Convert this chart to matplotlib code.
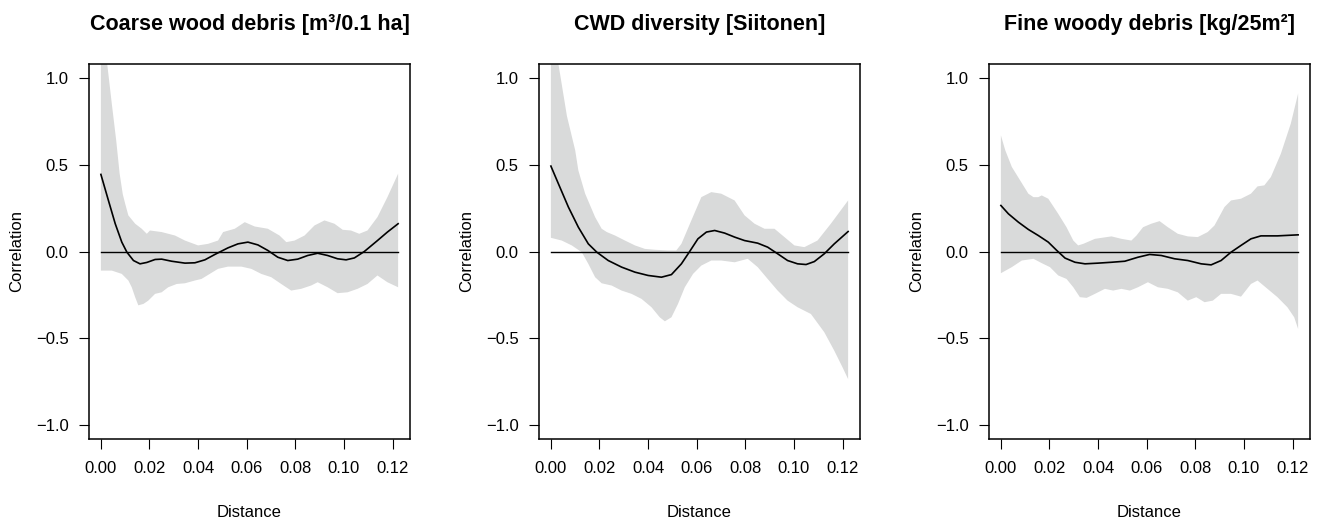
import numpy as np
import matplotlib
matplotlib.use("Agg")
import matplotlib.pyplot as plt
from matplotlib.ticker import FuncFormatter, FixedLocator

plt.rcParams['font.family'] = ['Liberation Sans', 'DejaVu Sans']

titles = ["Coarse wood debris [m³/0.1 ha]", "CWD diversity [Siitonen]", "Fine woody debris [kg/25m²]"]
x_ticks = [0.00, 0.02, 0.04, 0.06, 0.08, 0.10, 0.12]
y_ticks = [-1.0, -0.5, 0.0, 0.5, 1.0]

# Panel 1: Coarse wood debris
cwd_line_x = [0.0, 0.0031, 0.0059, 0.0086, 0.0107, 0.0134, 0.0161, 0.0189, 0.0223, 0.025, 0.0291, 0.0346,
              0.0387, 0.0428, 0.0469, 0.0523, 0.0564, 0.0605, 0.0646, 0.0687, 0.0728, 0.0769, 0.081, 0.0851,
              0.0892, 0.0933, 0.0974, 0.1009, 0.1043, 0.1084, 0.1138, 0.1179, 0.1223]
cwd_line_y = [0.444, 0.294, 0.16, 0.054, -0.004, -0.052, -0.071, -0.063, -0.046, -0.044, -0.056, -0.067,
              -0.065, -0.048, -0.017, 0.021, 0.044, 0.054, 0.038, 0.006, -0.033, -0.052, -0.044, -0.023,
              -0.01, -0.023, -0.042, -0.048, -0.037, 0.0, 0.063, 0.112, 0.16]
cwd_up_x = [0.0, 0.0026, 0.0045, 0.0063, 0.0077, 0.009, 0.01, 0.0113, 0.0141, 0.0168, 0.0189, 0.0202, 0.025,
            0.0305, 0.0346, 0.04, 0.0441, 0.0482, 0.0503, 0.0551, 0.0592, 0.0633, 0.0687, 0.0735, 0.0763,
            0.0797, 0.0838, 0.0879, 0.092, 0.0961, 0.0995, 0.1029, 0.1063, 0.1097, 0.1138, 0.1179, 0.1223]
cwd_up_y = [1.4, 1.08, 0.85, 0.64, 0.45, 0.33, 0.275, 0.208, 0.16, 0.131, 0.102, 0.121, 0.112,
            0.092, 0.063, 0.035, 0.044, 0.063, 0.112, 0.131, 0.169, 0.144, 0.131, 0.092, 0.054,
            0.063, 0.092, 0.15, 0.179, 0.16, 0.125, 0.121, 0.102, 0.121, 0.198, 0.313, 0.448]
cwd_lo_x = [0.0, 0.0045, 0.0086, 0.0113, 0.0127, 0.0141, 0.0154, 0.0175, 0.0195, 0.0223, 0.025, 0.0277,
            0.0312, 0.0346, 0.0387, 0.0414, 0.0448, 0.0482, 0.0523, 0.0578, 0.0619, 0.066, 0.0701, 0.0742,
            0.0783, 0.0824, 0.0865, 0.0892, 0.0933, 0.0974, 0.1015, 0.1056, 0.1097, 0.1138, 0.1179, 0.1223]
cwd_lo_y = [-0.11, -0.11, -0.129, -0.167, -0.206, -0.263, -0.31, -0.302, -0.283, -0.244, -0.235, -0.206,
            -0.187, -0.183, -0.167, -0.158, -0.129, -0.1, -0.087, -0.087, -0.1, -0.129, -0.148, -0.187,
            -0.225, -0.215, -0.196, -0.177, -0.206, -0.24, -0.235, -0.215, -0.187, -0.138, -0.177, -0.206]

# Panel 2: CWD diversity
div_line_x = [0.0, 0.0031, 0.0072, 0.0113, 0.0154, 0.0189, 0.0236, 0.0291, 0.0346, 0.04, 0.0455, 0.0496,
              0.0537, 0.0571, 0.0605, 0.064, 0.0674, 0.0715, 0.0756, 0.0797, 0.0851, 0.0892, 0.0933, 0.0974,
              0.1015, 0.105, 0.1084, 0.1125, 0.1166, 0.1223]
div_line_y = [0.492, 0.39, 0.256, 0.14, 0.044, -0.004, -0.052, -0.09, -0.119, -0.138, -0.148, -0.133,
              -0.071, 0.0, 0.073, 0.112, 0.121, 0.106, 0.083, 0.063, 0.048, 0.025, -0.013, -0.052,
              -0.071, -0.075, -0.058, -0.013, 0.044, 0.115]
div_up_x = [0.0, 0.0031, 0.0066, 0.01, 0.0113, 0.0141, 0.0182, 0.0209, 0.023, 0.0264, 0.0305, 0.0346, 0.0387,
            0.0428, 0.0482, 0.0516, 0.0537, 0.0578, 0.0619, 0.066, 0.0701, 0.0756, 0.0797, 0.0838, 0.0879,
            0.092, 0.0961, 0.1002, 0.1043, 0.1097, 0.1152, 0.1223]
div_up_y = [1.35, 1.08, 0.78, 0.583, 0.467, 0.333, 0.198, 0.131, 0.112, 0.092, 0.063, 0.035, 0.015,
            0.01, 0.006, 0.006, 0.044, 0.179, 0.313, 0.342, 0.333, 0.294, 0.208, 0.16, 0.131,
            0.131, 0.083, 0.035, 0.025, 0.063, 0.16, 0.294]
div_lo_x = [0.0, 0.0045, 0.0086, 0.0127, 0.0154, 0.0182, 0.0209, 0.025, 0.0291, 0.0332, 0.0373, 0.0414,
            0.0448, 0.0469, 0.0496, 0.0523, 0.0551, 0.0585, 0.0619, 0.066, 0.0701, 0.0756, 0.081, 0.0851,
            0.0892, 0.0933, 0.0974, 0.1015, 0.107, 0.1125, 0.1166, 0.12, 0.1223]
div_lo_y = [0.079, 0.063, 0.035, -0.004, -0.071, -0.148, -0.183, -0.196, -0.225, -0.244, -0.273, -0.321,
            -0.379, -0.402, -0.379, -0.302, -0.206, -0.129, -0.081, -0.052, -0.052, -0.062, -0.042, -0.09,
            -0.158, -0.225, -0.283, -0.321, -0.36, -0.465, -0.571, -0.667, -0.735]

# Panel 3: Fine woody debris
fwd_line_x = [0.0, 0.0031, 0.0072, 0.0113, 0.0154, 0.0195, 0.023, 0.0264, 0.0305, 0.0346, 0.04, 0.0455,
              0.051, 0.0564, 0.0612, 0.066, 0.0715, 0.0769, 0.0824, 0.0865, 0.0906, 0.0947, 0.0988, 0.1029,
              0.107, 0.1138, 0.1223]
fwd_line_y = [0.265, 0.217, 0.169, 0.127, 0.092, 0.054, 0.006, -0.038, -0.062, -0.071, -0.067, -0.062,
              -0.056, -0.033, -0.017, -0.023, -0.042, -0.052, -0.071, -0.077, -0.052, -0.004, 0.035, 0.073,
              0.09, 0.09, 0.096]
fwd_up_x = [0.0, 0.0018, 0.0045, 0.0079, 0.0113, 0.0134, 0.0154, 0.0168, 0.0195, 0.0236, 0.027, 0.0298,
            0.0318, 0.0339, 0.0387, 0.0455, 0.0496, 0.0537, 0.0558, 0.0585, 0.0619, 0.0653, 0.0687, 0.0728,
            0.0769, 0.081, 0.0851, 0.0879, 0.092, 0.0947, 0.0988, 0.1029, 0.1056, 0.1084, 0.1111, 0.1152,
            0.1193, 0.1223]
fwd_up_y = [0.669, 0.583, 0.487, 0.41, 0.333, 0.313, 0.313, 0.323, 0.304, 0.217, 0.14, 0.063,
            0.035, 0.044, 0.073, 0.087, 0.073, 0.063, 0.092, 0.14, 0.16, 0.175, 0.14, 0.102,
            0.087, 0.083, 0.112, 0.15, 0.256, 0.294, 0.304, 0.333, 0.375, 0.381, 0.429, 0.563,
            0.737, 0.91]
fwd_lo_x = [0.0, 0.0045, 0.0086, 0.0134, 0.0168, 0.0202, 0.0236, 0.027, 0.0298, 0.0325, 0.0353, 0.0387,
            0.0428, 0.0462, 0.0496, 0.0531, 0.0564, 0.0605, 0.0646, 0.0687, 0.0728, 0.0769, 0.0804, 0.0838,
            0.0872, 0.0906, 0.0947, 0.0988, 0.1029, 0.1056, 0.1097, 0.1138, 0.1179, 0.1207, 0.1223]
fwd_lo_y = [-0.125, -0.09, -0.052, -0.042, -0.067, -0.09, -0.138, -0.158, -0.206, -0.263, -0.267, -0.244,
            -0.215, -0.225, -0.215, -0.225, -0.206, -0.177, -0.206, -0.215, -0.235, -0.283, -0.263, -0.292,
            -0.283, -0.244, -0.244, -0.26, -0.187, -0.167, -0.215, -0.263, -0.321, -0.379, -0.446]

panels = [
    (cwd_line_x, cwd_line_y, cwd_up_x, cwd_up_y, cwd_lo_x, cwd_lo_y),
    (div_line_x, div_line_y, div_up_x, div_up_y, div_lo_x, div_lo_y),
    (fwd_line_x, fwd_line_y, fwd_up_x, fwd_up_y, fwd_lo_x, fwd_lo_y),
]

W, H = 1320, 520
fig = plt.figure(figsize=(W / 100, H / 100), dpi=100)
lefts = [89, 539, 989]
ax_w, ax_top, ax_bot = 321, 64, 439

xfmt = FuncFormatter(lambda v, p: f"{v:.2f}".replace('-', '\u2212'))
yfmt = FuncFormatter(lambda v, p: f"{v:.1f}".replace('-', '\u2212'))

for i, (lx_, ly_, ux, uy, lox, loy) in enumerate(panels):
    ax = fig.add_axes([lefts[i] / W, (H - ax_bot) / H, ax_w / W, (ax_bot - ax_top) / H])
    xmax = lx_[-1]
    ax.set_xlim(-0.04 * xmax, 1.04 * xmax)
    ax.set_ylim(-1.08, 1.08)
    ax.fill(np.concatenate([ux, lox[::-1]]), np.concatenate([uy, loy[::-1]]),
            color='#d9dada', lw=0, zorder=1)
    ax.plot([lx_[0], lx_[-1]], [0, 0], color='black', lw=1.0, zorder=2)
    ax.plot(lx_, ly_, color='black', lw=1.2, zorder=3, solid_joinstyle='round')
    ax.xaxis.set_major_locator(FixedLocator(x_ticks))
    ax.yaxis.set_major_locator(FixedLocator(y_ticks))
    ax.xaxis.set_major_formatter(xfmt)
    ax.yaxis.set_major_formatter(yfmt)
    ax.tick_params(axis='both', direction='out', length=7.5, width=0.8, labelsize=12, colors='black')
    ax.tick_params(axis='x', pad=8)
    ax.tick_params(axis='y', pad=7)
    for s in ax.spines.values():
        s.set_linewidth(1.1)
    ax.set_xlabel('Distance', fontsize=12)
    ax.set_ylabel('Correlation', fontsize=12)
    ax.xaxis.set_label_coords(0.5, -0.195)
    ax.xaxis.label.set_va('center')
    ax.yaxis.set_label_coords(-0.224, 0.5)
    ax.yaxis.label.set_va('center')
    ax.text(0.5, 1 + (ax_top - 25) / (ax_bot - ax_top), titles[i], transform=ax.transAxes,
            ha='center', va='center', fontsize=15.5, fontweight='bold')

fig.savefig('out.png', dpi=100)
